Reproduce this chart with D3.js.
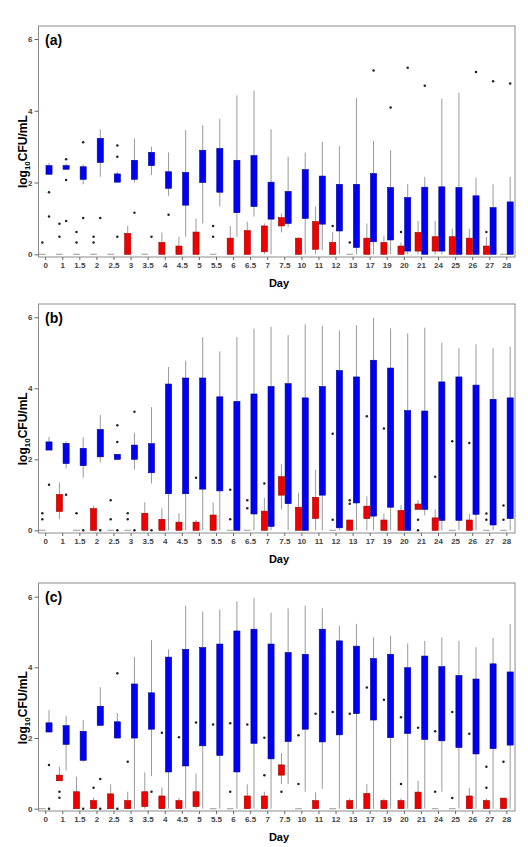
<!DOCTYPE html>
<html>
<head>
<meta charset="utf-8">
<script src="https://cdn.jsdelivr.net/npm/d3@7"></script>
<style>
  body { margin: 0; background: #fff; }
  svg { display: block; font-family: Arial, "Liberation Sans", sans-serif; }
</style>
</head>
<body>
<svg id="chart"></svg>
<script>
// sampling days (x categories)
const days = ["0", "1", "1.5", "2", "2.5", "3", "3.5", "4", "4.5", "5", "5.5", "6", "6.5", "7",
  "7.5", "10", "11", "12", "13", "17", "19", "20", "21", "24", "25", "26", "27", "28"];
const yTicks = [0, 2, 4, 6];

// box rows: [lower whisker, q1, q3, upper whisker] in log10 CFU/mL, one per day
// panel (a)
const aBlue = [
  [2.23, 2.23, 2.47, 2.55], [2.37, 2.37, 2.47, 2.53], [1.95, 2.09, 2.44, 2.51], [2.16, 2.56, 3.23, 3.48],
  [2.01, 2.01, 2.24, 2.30], [2.00, 2.09, 2.62, 3.23], [2.21, 2.47, 2.84, 3.00], [1.63, 1.84, 2.30, 2.84],
  [0.49, 1.37, 2.28, 3.46], [0.86, 2.00, 2.90, 3.60], [1.33, 1.73, 2.95, 3.78], [0.49, 1.16, 2.62, 4.43],
  [1.05, 1.33, 2.75, 4.56], [0.00, 0.98, 2.01, 3.49], [0.75, 0.86, 1.75, 2.72], [0.00, 1.00, 2.36, 2.84],
  [0.12, 0.84, 2.18, 3.14], [0.00, 0.65, 1.95, 3.02], [0.00, 0.19, 1.95, 4.36], [0.00, 0.35, 2.25, 3.16],
  [0.00, 0.40, 1.86, 2.90], [0.00, 0.09, 1.58, 1.96], [0.00, 0.00, 1.87, 2.16], [0.00, 0.09, 1.88, 4.34],
  [0.00, 0.00, 1.86, 4.50], [0.00, 0.00, 1.63, 2.14], [0.00, 0.00, 1.30, 1.95], [0.00, 0.00, 1.46, 2.16]
];
const aRed = [
  [0, 0, 0, 0], [0, 0, 0, 0], [0, 0, 0, 0], [0, 0, 0, 0],
  [0, 0, 0, 0], [0, 0, 0.58, 0.80], [0, 0, 0, 0], [0, 0, 0.33, 0.61],
  [0, 0, 0.23, 0.49], [0, 0, 0.62, 1.00], [0, 0, 0, 0], [0, 0, 0.45, 0.79],
  [0, 0, 0.66, 0.91], [0, 0.07, 0.79, 0.86], [0.61, 0.79, 1.02, 1.14], [0, 0, 0.45, 0.47],
  [0, 0.14, 0.91, 1.33], [0, 0, 0.33, 0.62], [0, 0, 0, 0], [0, 0, 0.45, 0.86],
  [0, 0, 0.33, 0.51], [0, 0, 0.23, 0.33], [0, 0.09, 0.61, 0.93], [0, 0.09, 0.49, 0.93],
  [0, 0, 0.49, 0.71], [0, 0, 0.45, 0.71], [0, 0, 0.23, 0.49], [0, 0, 0, 0]
];
const aBlueOut = [["0", 1.73], ["0", 1.05], ["1", 2.65], ["1", 2.07], ["1", 0.93], ["1.5", 3.12], ["1.5", 1.01],
  ["2", 1.01], ["2.5", 3.03], ["2.5", 2.72], ["2.5", 0.49], ["3", 1.16], ["3.5", 0.49], ["4", 1.10],
  ["17", 5.12], ["19", 4.09], ["20", 5.20], ["21", 4.70], ["26", 5.08], ["27", 4.82], ["28", 4.76]];
const aRedOut = [["0", 0.33], ["1", 0.85], ["1", 0.49], ["1.5", 0.62], ["1.5", 0.33], ["2", 0.49], ["2", 0.33],
  ["5.5", 0.79], ["5.5", 0.49], ["12", 0.79], ["13", 0.33], ["20", 0.62], ["27", 0.62]];

// panel (b)
const bBlue = [
  [2.26, 2.26, 2.49, 2.63], [1.74, 1.88, 2.45, 2.51], [1.48, 1.82, 2.31, 2.62], [1.91, 2.07, 2.84, 3.25],
  [2.00, 2.00, 2.14, 2.14], [1.71, 2.00, 2.40, 2.75], [1.32, 1.62, 2.44, 3.47], [0.00, 1.03, 4.12, 4.60],
  [0.00, 1.03, 4.29, 4.78], [0.00, 1.16, 4.29, 5.44], [0.00, 1.11, 3.76, 5.04], [0.00, 0.00, 3.63, 5.44],
  [0.00, 0.46, 3.84, 5.68], [0.00, 0.11, 4.05, 5.73], [0.00, 0.75, 4.13, 5.50], [0.00, 0.00, 3.73, 5.80],
  [0.00, 0.99, 4.05, 5.76], [0.00, 0.07, 4.50, 5.63], [0.00, 0.77, 4.32, 5.78], [0.00, 0.40, 4.79, 5.98],
  [0.00, 0.65, 4.57, 5.69], [0.00, 0.00, 3.37, 5.55], [0.42, 0.59, 3.36, 5.71], [0.00, 0.28, 4.18, 5.29],
  [0.00, 0.28, 4.32, 5.13], [0.00, 0.45, 4.09, 5.24], [0.00, 0.15, 3.69, 5.13], [0.00, 0.33, 3.73, 5.17]
];
const bRed = [
  [0, 0, 0, 0], [0.31, 0.53, 1.01, 1.35], [0, 0, 0, 0], [0, 0, 0.61, 0.69],
  [0, 0, 0, 0], [0, 0, 0, 0], [0, 0, 0.48, 0.79], [0, 0, 0.31, 0.62],
  [0, 0, 0.23, 0.48], [0, 0, 0.23, 0.29], [0, 0, 0.43, 0.79], [0, 0, 0, 0],
  [0, 0, 0, 0], [0, 0, 0.54, 0.92], [0.59, 0.99, 1.51, 1.86], [0, 0, 0.65, 1.06],
  [0, 0.33, 0.93, 1.71], [0, 0, 0, 0], [0, 0, 0.29, 0.29], [0, 0.33, 0.68, 0.96],
  [0, 0, 0.29, 0.47], [0, 0, 0.56, 0.71], [0.59, 0.59, 0.74, 0.85], [0, 0, 0.35, 0.59],
  [0, 0, 0, 0], [0, 0, 0.29, 0.47], [0, 0, 0, 0], [0, 0, 0, 0]
];
const bBlueOut = [["0", 1.28], ["1", 1.00], ["1.5", 0], ["2", 0], ["2.5", 2.96], ["2.5", 2.49], ["2.5", 0],
  ["3", 3.34], ["3", 0], ["3.5", 0]];
const bRedOut = [["0", 0.48], ["0", 0.31], ["1.5", 0.48], ["2.5", 0.85], ["2.5", 0.31], ["3", 0.48], ["3", 0.31],
  ["5", 1.48], ["6", 1.14], ["6", 0.31], ["6.5", 0.85], ["6.5", 0.62], ["7", 1.32], ["12", 2.72], ["12", 0.30],
  ["13", 0.85], ["13", 0.75], ["17", 3.21], ["19", 2.87], ["21", 0.30], ["21", 0], ["24", 1.51], ["25", 2.51],
  ["26", 2.46], ["27", 0.47], ["27", 0.30], ["28", 0.70], ["28", 0.30]];

// panel (c)
const cBlue = [
  [2.17, 2.17, 2.43, 2.79], [1.08, 1.82, 2.35, 2.63], [1.33, 1.37, 2.19, 2.51], [2.36, 2.36, 2.90, 3.44],
  [2.00, 2.00, 2.46, 2.71], [0.00, 2.00, 3.53, 4.30], [0.92, 2.25, 3.28, 4.77], [0.00, 1.04, 4.29, 4.51],
  [0.00, 1.21, 4.51, 5.74], [0.00, 1.78, 4.56, 5.58], [0.00, 1.51, 4.66, 5.64], [0.00, 1.04, 5.03, 5.87],
  [0.00, 1.85, 5.08, 5.96], [0.00, 1.41, 4.66, 5.55], [0.70, 1.90, 4.42, 5.67], [0.48, 2.25, 4.37, 5.75],
  [0.56, 1.89, 5.08, 5.67], [0.00, 2.09, 4.75, 5.18], [0.00, 2.69, 4.60, 5.23], [0.00, 2.51, 4.25, 4.85],
  [0.00, 2.01, 4.37, 4.89], [0.00, 2.13, 3.99, 4.68], [0.00, 1.96, 4.32, 4.75], [0.48, 1.92, 4.02, 4.85],
  [0.00, 1.73, 3.77, 4.75], [0.00, 1.55, 3.67, 4.57], [0.00, 1.70, 4.10, 4.83], [0.00, 1.80, 3.87, 5.23]
];
const cRed = [
  [0, 0, 0, 0], [0.79, 0.79, 0.95, 1.19], [0, 0, 0.48, 0.91], [0, 0, 0.23, 0.31],
  [0, 0, 0.42, 0.69], [0, 0, 0.23, 0.48], [0, 0.06, 0.48, 1.03], [0, 0, 0.36, 0.60],
  [0, 0, 0.23, 0.31], [0, 0.06, 0.48, 1.00], [0, 0, 0, 0], [0, 0, 0, 0],
  [0, 0, 0.36, 0.69], [0, 0, 0.36, 0.48], [0.70, 0.95, 1.24, 1.57], [0, 0, 0, 0],
  [0, 0, 0.23, 0.46], [0, 0, 0, 0], [0, 0, 0.23, 0.29], [0, 0, 0.43, 0.70],
  [0, 0, 0.23, 0.29], [0, 0, 0.23, 0.29], [0, 0, 0.47, 0.79], [0, 0, 0, 0],
  [0, 0, 0, 0], [0, 0, 0.36, 0.59], [0, 0, 0.23, 0.29], [0, 0, 0.30, 0.30]
];
const cBlueOut = [["0", 1.24], ["0", 0], ["1.5", 0], ["2", 0.84], ["2", 0], ["2.5", 3.83], ["2.5", 0], ["3.5", 0.48]];
const cRedOut = [["1", 0.48], ["1", 0.31], ["2", 0.59], ["3", 1.33], ["4", 2.15], ["4.5", 2.02], ["5", 2.44],
  ["5.5", 2.38], ["6", 2.42], ["6", 0.48], ["6.5", 2.38], ["7", 2.01], ["7", 0.95], ["7.5", 0.48],
  ["10", 2.08], ["10", 0.70], ["11", 2.69], ["12", 2.74], ["13", 2.69], ["17", 3.43], ["19", 3.08],
  ["20", 2.59], ["20", 0.70], ["21", 2.29], ["24", 2.19], ["24", 0.48], ["25", 2.74], ["25", 0.30],
  ["26", 2.12], ["27", 1.19], ["27", 0.59], ["28", 1.33]];

const W = 528, H = 847;
const left = 38.5, right = 515;

const panels = [
  {tag: "(a)", top: 26, bottom: 257, y0: 254.3, y6: 39, red: aRed, blue: aBlue, redOut: aRedOut, blueOut: aBlueOut},
  {tag: "(b)", top: 304, bottom: 533, y0: 530.3, y6: 317.3, red: bRed, blue: bBlue, redOut: bRedOut, blueOut: bBlueOut},
  {tag: "(c)", top: 583, bottom: 811, y0: 808.7, y6: 596.7, red: cRed, blue: cBlue, redOut: cRedOut, blueOut: cBlueOut}
];

const series = {
  red: {fill: "#ee0000", stroke: "#9a0000"},
  blue: {fill: "#0000f2", stroke: "#00008c"}
};

const svg = d3.select("#chart").attr("width", W).attr("height", H);

const x = d3.scaleBand()
  .domain(days)
  .range([38.3, 514.2])
  .paddingInner(0.216)
  .paddingOuter(0.04);

const sub = d3.scaleBand()
  .domain(["red", "blue"])
  .range([0, x.bandwidth()]);

function drawBoxes(g, rows, key, y) {
  const bw = sub.bandwidth();
  const col = series[key];
  const grp = g.append("g").attr("class", key);
  const box = grp.selectAll("g")
    .data(rows.map((r, i) => ({day: days[i], lo: r[0], q1: r[1], q3: r[2], hi: r[3]})))
    .join("g")
    .attr("transform", d => `translate(${x(d.day) + sub(key)},0)`);

  // whiskers
  box.filter(d => d.hi > d.q3).append("line")
    .attr("x1", bw / 2).attr("x2", bw / 2)
    .attr("y1", d => y(d.q3)).attr("y2", d => y(d.hi))
    .attr("stroke", "#9a9a9a").attr("stroke-width", 1);
  box.filter(d => d.lo < d.q1).append("line")
    .attr("x1", bw / 2).attr("x2", bw / 2)
    .attr("y1", d => y(d.q1)).attr("y2", d => y(d.lo))
    .attr("stroke", "#9a9a9a").attr("stroke-width", 1);

  // boxes
  box.filter(d => d.q3 > d.q1).append("rect")
    .attr("x", 0.3)
    .attr("width", bw - 0.6)
    .attr("y", d => y(d.q3))
    .attr("height", d => y(d.q1) - y(d.q3))
    .attr("fill", col.fill)
    .attr("stroke", col.stroke)
    .attr("stroke-width", 0.6);

  // all-equal groups collapse to a grey dash
  box.filter(d => d.q3 <= d.q1).append("line")
    .attr("x1", 0).attr("x2", bw)
    .attr("y1", d => y(d.q1)).attr("y2", d => y(d.q1))
    .attr("stroke", "#aaaaaa").attr("stroke-width", 1.2);
}

function drawOutliers(g, pts, key, y) {
  g.append("g").selectAll("circle")
    .data(pts)
    .join("circle")
    .attr("cx", d => x(d[0]) + sub(key) + sub.bandwidth() / 2)
    .attr("cy", d => y(d[1]))
    .attr("r", 1.25)
    .attr("fill", "#222");
}

panels.forEach(p => {
  const y = d3.scaleLinear().domain([0, 6]).range([p.y0, p.y6]);
  const g = svg.append("g");

  // frame
  g.append("rect")
    .attr("x", left).attr("y", p.top)
    .attr("width", right - left).attr("height", p.bottom - p.top)
    .attr("fill", "none").attr("stroke", "#8c8c8c").attr("stroke-width", 1);

  // y axis
  const ya = g.append("g")
    .attr("transform", `translate(${left},0)`)
    .call(d3.axisLeft(y).tickValues(yTicks).tickSize(4).tickPadding(2).tickFormat(d3.format("d")));
  ya.select(".domain").remove();
  ya.selectAll("line").attr("stroke", "#666");
  ya.selectAll("text").attr("font-size", 8).attr("font-weight", "bold").attr("fill", "#444")
    .attr("font-family", "Arial, sans-serif");

  // x axis
  const xa = g.append("g")
    .attr("transform", `translate(0,${p.bottom})`)
    .call(d3.axisBottom(x).tickSize(3).tickPadding(2));
  xa.select(".domain").remove();
  xa.selectAll("line").attr("stroke", "#666");
  xa.selectAll("text").attr("font-size", 8).attr("font-weight", "bold").attr("fill", "#444")
    .attr("font-family", "Arial, sans-serif");

  drawBoxes(g, p.blue, "blue", y);
  drawBoxes(g, p.red, "red", y);
  drawOutliers(g, p.blueOut, "blue", y);
  drawOutliers(g, p.redOut, "red", y);

  // panel tag
  g.append("text")
    .attr("x", 45).attr("y", p.top + 19)
    .attr("font-size", 14).attr("font-weight", "bold")
    .text(p.tag);

  // axis titles
  g.append("text")
    .attr("x", 279).attr("y", p.bottom + 30)
    .attr("text-anchor", "middle")
    .attr("font-size", 11).attr("font-weight", "bold")
    .text("Day");

  const yl = g.append("text")
    .attr("transform", `translate(27,${(p.y0 + p.y6) / 2 + 5}) rotate(-90)`)
    .attr("text-anchor", "middle")
    .attr("font-size", 12).attr("font-weight", "bold");
  yl.append("tspan").text("log");
  yl.append("tspan").attr("font-size", 8).attr("dy", 3).text("10");
  yl.append("tspan").attr("dy", -3).text("CFU/mL");
});
</script>
</body>
</html>
